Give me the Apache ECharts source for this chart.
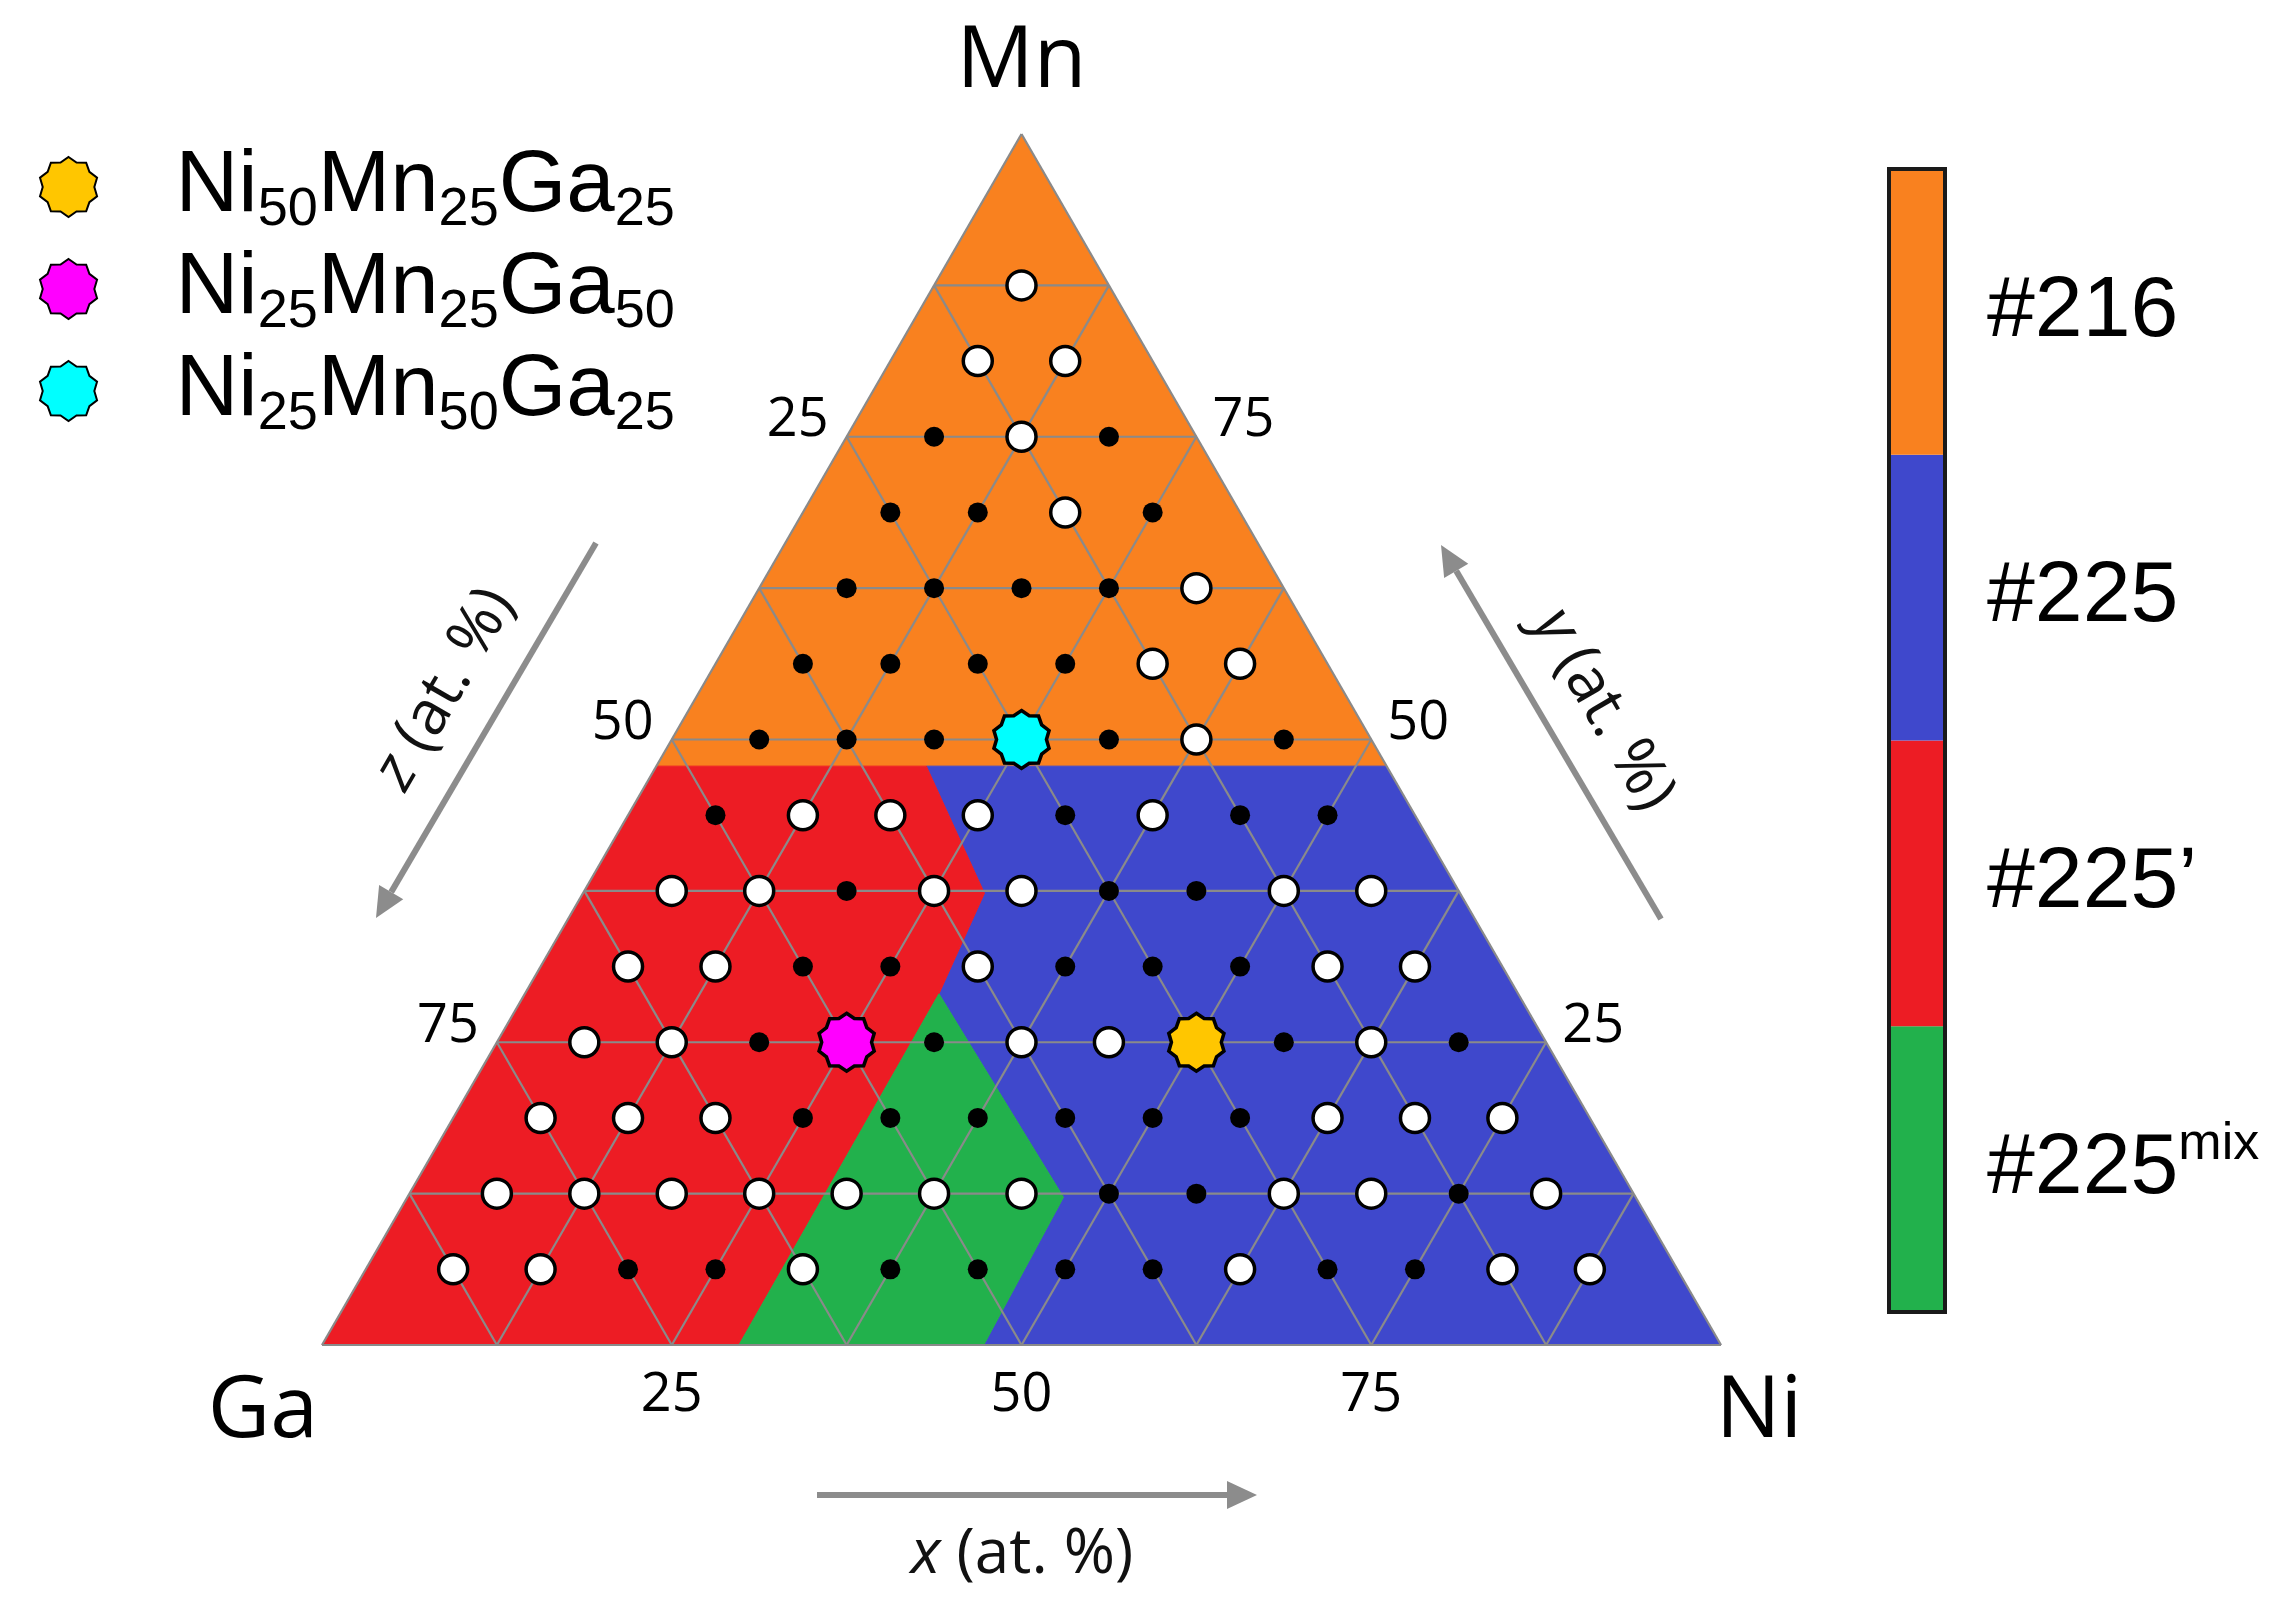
<!DOCTYPE html>
<html>
<head>
<meta charset="utf-8">
<script src="https://cdn.jsdelivr.net/npm/echarts@6/dist/echarts.min.js"></script>
<style>
html,body{margin:0;padding:0;background:#ffffff;}
#chart{width:2292px;height:1616px;}
</style>
</head>
<body>
<div id="chart"></div>
<script>
// ---------------- DATA (compositions in at.%: [Ni, Mn], Ga = 100 - Ni - Mn) ----------------
const gridTicks = [0, 12.5, 25, 37.5, 50, 62.5, 75, 87.5];
const tickLabels = [25, 50, 75];

const openPoints = [
  [6.25,87.5],
  [6.25,81.25],[12.5,81.25],
  [12.5,75],
  [18.75,68.75],
  [31.25,62.5],
  [31.25,56.25],[37.5,56.25],
  [37.5,50],
  [12.5,43.75],[18.75,43.75],[25,43.75],[37.5,43.75],
  [6.25,37.5],[12.5,37.5],[25,37.5],[31.25,37.5],[50,37.5],[56.25,37.5],
  [6.25,31.25],[12.5,31.25],[31.25,31.25],[56.25,31.25],[62.5,31.25],
  [6.25,25],[12.5,25],[37.5,25],[43.75,25],[62.5,25],
  [6.25,18.75],[12.5,18.75],[18.75,18.75],[62.5,18.75],[68.75,18.75],[75,18.75],
  [6.25,12.5],[12.5,12.5],[18.75,12.5],[25,12.5],[31.25,12.5],[37.5,12.5],[43.75,12.5],[62.5,12.5],[68.75,12.5],[81.25,12.5],
  [6.25,6.25],[12.5,6.25],[31.25,6.25],[62.5,6.25],[81.25,6.25],[87.5,6.25]
];

const filledPoints = [
  [6.25,75],[18.75,75],
  [6.25,68.75],[12.5,68.75],[25,68.75],
  [6.25,62.5],[12.5,62.5],[18.75,62.5],[25,62.5],
  [6.25,56.25],[12.5,56.25],[18.75,56.25],[25,56.25],
  [6.25,50],[12.5,50],[18.75,50],[31.25,50],[43.75,50],
  [6.25,43.75],[31.25,43.75],[43.75,43.75],[50,43.75],
  [18.75,37.5],[37.5,37.5],[43.75,37.5],
  [18.75,31.25],[25,31.25],[37.5,31.25],[43.75,31.25],[50,31.25],
  [18.75,25],[31.25,25],[56.25,25],[68.75,25],
  [25,18.75],[31.25,18.75],[37.5,18.75],[43.75,18.75],[50,18.75],[56.25,18.75],
  [50,12.5],[56.25,12.5],[75,12.5],
  [18.75,6.25],[25,6.25],[37.5,6.25],[43.75,6.25],[50,6.25],[56.25,6.25],[68.75,6.25],[75,6.25]
];

const refNames  = ['Ni50Mn25Ga25', 'Ni25Mn25Ga50', 'Ni25Mn50Ga25'];
const refPoints = [[50, 25], [25, 25], [25, 50]];
const refColors = ['#FFC600', '#FF00FF', '#00FFFF'];

// phase regions (polygon vertices as [Ni, Mn])
const region216     = [[0,47.8],[52.2,47.8],[0,100]];
const region225     = [[47.3,0],[100,0],[52.2,47.8],[19.3,47.8],[28.7,37.3],[29.6,29.0],[46.9,12.2]];
const region225p    = [[0,0],[29.8,0],[29.6,29.0],[28.7,37.3],[19.3,47.8],[0,47.8]];
const region225mix  = [[29.8,0],[47.3,0],[46.9,12.2],[29.6,29.0]];

const phaseNames  = ['#216', '#225', '#225\u2019', '#225'];
const phaseSup    = ['', '', '', 'mix'];
const phaseColors = ['#F9811F', '#3F48CC', '#ED1C24', '#22B14C'];

// ---------------- helpers ----------------
function tern(ni, mn) { return [ni + mn / 2, mn]; }   // ternary -> cartesian (axis units)

function starPath(n, rIn) {
  let d = '';
  for (let i = 0; i < 2 * n; i++) {
    const r = (i % 2 === 0) ? 1 : rIn;
    const a = -Math.PI / 2 + i * Math.PI / n;
    d += (i === 0 ? 'M' : 'L') + (50 + 50 * r * Math.cos(a)).toFixed(2) + ' ' + (50 + 50 * r * Math.sin(a)).toFixed(2) + ' ';
  }
  return 'path://' + d + 'Z';
}
const STAR = starPath(10, 0.86);

function arrow(x1, y1, x2, y2) {
  const dx = x2 - x1, dy = y2 - y1, len = Math.hypot(dx, dy);
  const ux = dx / len, uy = dy / len, nx = -uy, ny = ux;
  const hl = 30, hw = 14;
  const bx = x2 - hl * ux, by = y2 - hl * uy;
  return [
    { type: 'line', shape: { x1: x1, y1: y1, x2: bx, y2: by }, style: { stroke: '#8C8C8C', lineWidth: 6 }, z: 50 },
    { type: 'polygon', shape: { points: [[x2, y2], [bx + hw * nx, by + hw * ny], [bx - hw * nx, by - hw * ny]] }, style: { fill: '#8C8C8C' }, z: 50 }
  ];
}

// grid segments
const segments = [];
gridTicks.forEach(c => {
  segments.push([...tern(0, c), ...tern(100 - c, c)]);        // constant Mn
  segments.push([...tern(c, 0), ...tern(c, 100 - c)]);        // constant Ni
  segments.push([...tern(100 - c, 0), ...tern(0, 100 - c)]);  // constant Ga
});

const regions = [
  { verts: region216, color: phaseColors[0] },
  { verts: region225, color: phaseColors[1] },
  { verts: region225p, color: phaseColors[2] },
  { verts: region225mix, color: phaseColors[3] }
];

const tickData = [];
tickLabels.forEach(t => {
  tickData.push({ value: tern(t, 0), label: { formatter: String(t), offset: [0, 51] } });           // x = Ni (bottom)
  tickData.push({ value: tern(0, 100 - t), label: { formatter: String(t), offset: [-49, -16] } });  // z = Ga (left)
  tickData.push({ value: tern(100 - t, t), label: { formatter: String(t), offset: [47, -16] } });   // y = Mn (right)
});

const cornerData = [
  { value: tern(0, 100), label: { formatter: 'Mn', offset: [0, -72] } },
  { value: tern(0, 0),   label: { formatter: 'Ga', offset: [-59, 67] } },
  { value: tern(100, 0), label: { formatter: 'Ni', offset: [38, 67] } }
];

function formula(name) {
  return name.replace(/([A-Z][a-z]?)(\d+)/g, '{n|$1}{s|$2}');
}

// ---------------- chart ----------------
const chart = echarts.init(document.getElementById('chart'), null, { renderer: 'canvas' });

const series = [
  {
    type: 'custom', name: 'regions', xAxisIndex: 0, yAxisIndex: 0, silent: true, z: 1, clip: false,
    data: regions.map((r, i) => [i]),
    renderItem: function (params, api) {
      const r = regions[params.dataIndex];
      const pts = r.verts.map(v => api.coord(tern(v[0], v[1])));
      return { type: 'polygon', shape: { points: pts }, style: { fill: r.color, stroke: r.color, lineWidth: 1 } };
    }
  },
  {
    type: 'custom', name: 'gridlines', xAxisIndex: 0, yAxisIndex: 0, silent: true, z: 2, clip: false,
    data: segments,
    encode: { x: [0, 2], y: [1, 3] },
    renderItem: function (params, api) {
      const p1 = api.coord([api.value(0), api.value(1)]);
      const p2 = api.coord([api.value(2), api.value(3)]);
      return { type: 'line', shape: { x1: p1[0], y1: p1[1], x2: p2[0], y2: p2[1] }, style: { stroke: '#8A8A8A', lineWidth: 2.2 } };
    }
  },
  {
    type: 'scatter', name: 'open', xAxisIndex: 0, yAxisIndex: 0, silent: true, z: 3, clip: false,
    symbol: 'circle', symbolSize: 29,
    itemStyle: { color: '#ffffff', borderColor: '#000000', borderWidth: 3.5, opacity: 1 },
    data: openPoints.map(p => tern(p[0], p[1]))
  },
  {
    type: 'scatter', name: 'filled', xAxisIndex: 0, yAxisIndex: 0, silent: true, z: 3, clip: false,
    symbol: 'circle', symbolSize: 20,
    itemStyle: { color: '#000000', opacity: 1 },
    data: filledPoints.map(p => tern(p[0], p[1]))
  }
];

refNames.forEach((nm, i) => {
  series.push({
    type: 'scatter', name: nm, xAxisIndex: 0, yAxisIndex: 0, silent: true, z: 4, clip: false,
    symbol: STAR, symbolSize: 58, symbolKeepAspect: true,
    itemStyle: { color: refColors[i], borderColor: '#000000', borderWidth: 3.5, opacity: 1 },
    data: [tern(refPoints[i][0], refPoints[i][1])]
  });
});

series.push({
  type: 'scatter', name: 'ticks', xAxisIndex: 0, yAxisIndex: 0, silent: true, z: 5, clip: false,
  symbolSize: 1, itemStyle: { color: 'rgba(0,0,0,0)', opacity: 1 },
  label: { show: true, position: 'inside', align: 'center', verticalAlign: 'middle', fontFamily: 'Open Sans', fontSize: 54, color: '#000', opacity: 1 },
  data: tickData
});
series.push({
  type: 'scatter', name: 'corners', xAxisIndex: 0, yAxisIndex: 0, silent: true, z: 5, clip: false,
  symbolSize: 1, itemStyle: { color: 'rgba(0,0,0,0)', opacity: 1 },
  label: { show: true, position: 'inside', align: 'center', verticalAlign: 'middle', fontFamily: 'Open Sans', fontSize: 86, color: '#000', opacity: 1 },
  data: cornerData
});

// colour bar (bottom -> top)
const barOrder = [3, 2, 1, 0];
series.push({
  type: 'bar', name: 'phasebar', xAxisIndex: 1, yAxisIndex: 1, silent: true, z: 2,
  barWidth: '100%',
  data: barOrder.map(i => ({ value: 1, itemStyle: { color: phaseColors[i] } }))
});

const TITLE_STYLE = { align: 'center', verticalAlign: 'middle', fontFamily: 'Open Sans', fontSize: 62, fill: '#111' };
function titleText(v, x, y, rot) {
  return { type: 'text', x: x, y: y, rotation: rot, z: 50,
    style: Object.assign({ text: '{i|' + v + '} (at. %)',
      rich: { i: { fontStyle: 'italic', fontFamily: 'Open Sans', fontSize: 62, fill: '#111' } } }, TITLE_STYLE) };
}

const graphics = [].concat(
  arrow(817, 1495, 1257, 1495),
  arrow(596, 543, 376, 918),
  arrow(1661, 919, 1441, 545),
  [
    titleText('x', 1022, 1555, 0),
    titleText('z', 445, 689, Math.PI / 3),
    titleText('y', 1603, 710, -Math.PI / 3),
    { type: 'rect', shape: { x: 1889, y: 169, width: 56, height: 1143 }, z: 60,
      style: { fill: 'none', stroke: '#1a1a1a', lineWidth: 4 } }
  ]
);

chart.setOption({
  backgroundColor: '#ffffff',
  animation: false,
  grid: [
    { left: 322, top: 134, width: 1399, height: 1211 },
    { left: 1889, top: 169, width: 56, height: 1143 }
  ],
  xAxis: [
    { type: 'value', gridIndex: 0, min: 0, max: 100, show: false },
    { type: 'value', gridIndex: 1, min: 0, max: 1, show: false }
  ],
  yAxis: [
    { type: 'value', gridIndex: 0, min: 0, max: 100, show: false },
    { type: 'category', gridIndex: 1, position: 'right',
      data: barOrder.map(i => phaseNames[i] + phaseSup[i]),
      axisLine: { show: false }, axisTick: { show: false }, splitLine: { show: false },
      axisLabel: {
        show: true, margin: 42, color: '#000', fontFamily: 'Liberation Sans', fontSize: 86,
        formatter: function (v, idx) {
          const i = barOrder[idx];
          return '{b|' + phaseNames[i] + '}' + (phaseSup[i] ? '{sup|' + phaseSup[i] + '}' : '');
        },
        rich: {
          b: { fontFamily: 'Liberation Sans', fontSize: 86, lineHeight: 100, color: '#000' },
          sup: { fontFamily: 'Liberation Sans', fontSize: 52, lineHeight: 52, verticalAlign: 'top', color: '#000' }
        }
      }
    }
  ],
  legend: {
    orient: 'vertical', left: 39, top: 137, padding: 0, itemGap: 2,
    itemWidth: 60, itemHeight: 60,
    data: refNames.map(n => ({ name: n, icon: STAR })),
    formatter: formula,
    selectedMode: false,
    itemStyle: { opacity: 1 },
    textStyle: {
      fontFamily: 'Liberation Sans', fontSize: 87, lineHeight: 100, color: '#000', padding: [0, 0, 0, 72],
      rich: {
        n: { fontFamily: 'Liberation Sans', fontSize: 87, lineHeight: 100, color: '#000' },
        s: { fontFamily: 'Liberation Sans', fontSize: 54, lineHeight: 48, verticalAlign: 'bottom', color: '#000' }
      }
    }
  },
  graphic: graphics,
  series: series
});
</script>
</body>
</html>
